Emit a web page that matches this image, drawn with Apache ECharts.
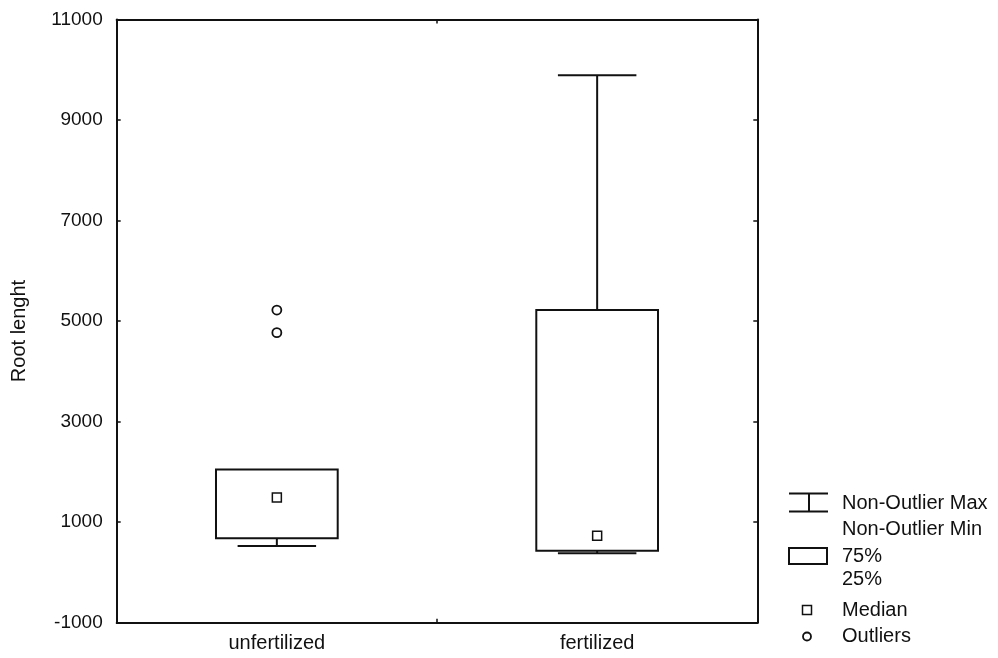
<!DOCTYPE html>
<html>
<head>
<meta charset="utf-8">
<script src="https://cdn.jsdelivr.net/npm/echarts@6/dist/echarts.min.js"></script>
<style>
html,body{margin:0;padding:0;background:#fff;}
#chart{width:998px;height:658px;}
</style>
</head>
<body>
<div id="chart"></div>
<script>
// ---- data ----
const categories = ['unfertilized', 'fertilized'];
const whiskerMin = [527, 380];
const q1 = [680, 430];
const median = [1490, 730];
const q3 = [2050, 5220];
const whiskerMax = [2050, 9890];
const outlierCategory = ['unfertilized', 'unfertilized'];
const outlierValue = [5220, 4770];
const yMin = -1000, yMax = 11000, yStep = 2000;
const yAxisTitle = 'Root lenght';
const legendLabels = ['Non-Outlier Max', 'Non-Outlier Min', '75%', '25%', 'Median', 'Outliers'];

// ---- build ----
const boxData = categories.map((c, i) => [i, whiskerMin[i], q1[i], median[i], q3[i], whiskerMax[i]]);
const FONT = '"Liberation Sans", Arial, sans-serif';
const BLACK = '#111';

function renderBox(params, api) {
  const x = api.value(0);
  const lo = api.coord([x, api.value(1)]);
  const b1 = api.coord([x, api.value(2)]);
  const b3 = api.coord([x, api.value(4)]);
  const hi = api.coord([x, api.value(5)]);
  const band = api.size([1, 0])[0];
  const bw = band * 0.38, cw = band * 0.245;
  const cx = lo[0];
  const st = { stroke: BLACK, lineWidth: 2, fill: null };
  const children = [];
  if (api.value(5) > api.value(4)) {
    children.push({ type: 'line', shape: { x1: cx, y1: b3[1], x2: cx, y2: hi[1] }, style: st });
    children.push({ type: 'line', shape: { x1: cx - cw / 2, y1: hi[1], x2: cx + cw / 2, y2: hi[1] }, style: st });
  }
  if (api.value(1) < api.value(2)) {
    children.push({ type: 'line', shape: { x1: cx, y1: b1[1], x2: cx, y2: lo[1] }, style: st });
    children.push({ type: 'line', shape: { x1: cx - cw / 2, y1: lo[1], x2: cx + cw / 2, y2: lo[1] }, style: st });
  }
  children.push({ type: 'rect', shape: { x: cx - bw / 2, y: b3[1], width: bw, height: b1[1] - b3[1] }, style: { stroke: BLACK, lineWidth: 2, fill: '#fff' } });
  return { type: 'group', children: children };
}

const lx = 789, lw = 39, tx = 842;
const ts = { fill: BLACK, font: '20px ' + FONT, textVerticalAlign: 'middle' };
const lstroke = { stroke: BLACK, lineWidth: 2, fill: null };
const graphics = [
  { type: 'text', x: 19, y: 331, rotation: Math.PI / 2, style: { text: yAxisTitle, fill: BLACK, font: '20px ' + FONT, textAlign: 'center', textVerticalAlign: 'middle' } },
  { type: 'line', shape: { x1: lx, y1: 493.5, x2: lx + lw, y2: 493.5 }, style: lstroke },
  { type: 'line', shape: { x1: lx, y1: 511.5, x2: lx + lw, y2: 511.5 }, style: lstroke },
  { type: 'line', shape: { x1: 809, y1: 493.5, x2: 809, y2: 511.5 }, style: lstroke },
  { type: 'text', x: tx, y: 503, style: Object.assign({ text: legendLabels[0] }, ts) },
  { type: 'text', x: tx, y: 529, style: Object.assign({ text: legendLabels[1] }, ts) },
  { type: 'rect', shape: { x: lx, y: 548, width: 38, height: 16 }, style: lstroke },
  { type: 'text', x: tx, y: 556, style: Object.assign({ text: legendLabels[2] }, ts) },
  { type: 'text', x: tx, y: 579, style: Object.assign({ text: legendLabels[3] }, ts) },
  { type: 'rect', shape: { x: 802.5, y: 605.5, width: 9, height: 9 }, style: { stroke: BLACK, lineWidth: 1.5, fill: '#fff' } },
  { type: 'text', x: tx, y: 610, style: Object.assign({ text: legendLabels[4] }, ts) },
  { type: 'circle', shape: { cx: 807, cy: 636.5, r: 4 }, style: { stroke: BLACK, lineWidth: 1.8, fill: '#fff' } },
  { type: 'text', x: tx, y: 636, style: Object.assign({ text: legendLabels[5] }, ts) }
];

const axisLine = { show: true, onZero: false, lineStyle: { color: BLACK, width: 2 } };
const tick = { show: true, inside: true, length: 4, lineStyle: { color: BLACK, width: 1.5 } };
const option = {
  animation: false,
  backgroundColor: '#fff',
  grid: { left: 116.7, top: 19.5, right: 240.7, bottom: 35.3 },
  xAxis: [
    { type: 'category', data: categories, position: 'bottom', boundaryGap: true,
      axisLine: axisLine, axisTick: tick,
      axisLabel: { color: BLACK, fontSize: 20, fontFamily: FONT, margin: 11 }, splitLine: { show: false } },
    { type: 'category', data: categories, position: 'top', boundaryGap: true,
      axisLine: axisLine, axisTick: tick,
      axisLabel: { show: false }, splitLine: { show: false } }
  ],
  yAxis: [
    { type: 'value', min: yMin, max: yMax, interval: yStep, position: 'left',
      axisLine: axisLine, axisTick: tick,
      axisLabel: { color: BLACK, fontSize: 19, fontFamily: FONT, margin: 14, formatter: v => String(v) }, splitLine: { show: false } },
    { type: 'value', min: yMin, max: yMax, interval: yStep, position: 'right',
      axisLine: axisLine, axisTick: tick,
      axisLabel: { show: false }, splitLine: { show: false } }
  ],
  graphic: graphics,
  series: [
    { type: 'custom', renderItem: renderBox, data: boxData, encode: { x: 0, y: [1, 2, 4, 5] }, z: 2 },
    { type: 'scatter', data: categories.map((c, i) => [c, median[i]]), symbol: 'rect', symbolSize: 9,
      itemStyle: { color: '#fff', borderColor: BLACK, borderWidth: 1.5, opacity: 1 }, z: 3 },
    { type: 'scatter', data: outlierCategory.map((c, i) => [c, outlierValue[i]]), symbol: 'circle', symbolSize: 9,
      itemStyle: { color: '#fff', borderColor: BLACK, borderWidth: 1.8, opacity: 1 }, z: 3 }
  ]
};
const chart = echarts.init(document.getElementById('chart'), null, { renderer: 'canvas' });
chart.setOption(option);
</script>
</body>
</html>
